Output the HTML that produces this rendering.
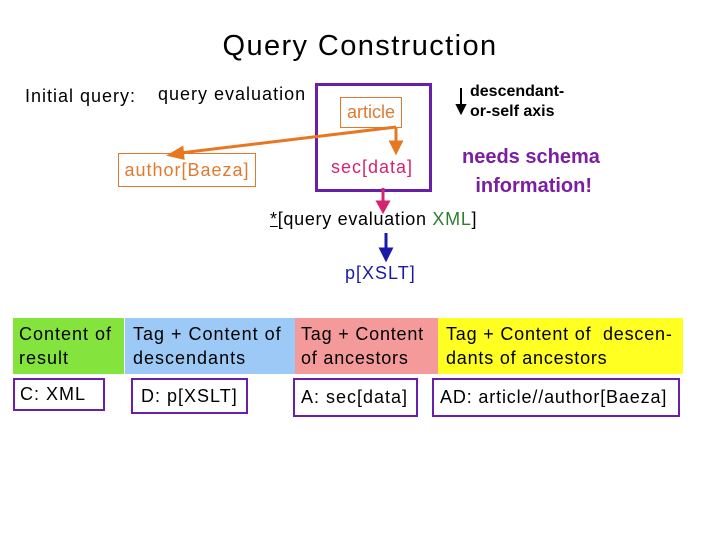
<!DOCTYPE html>
<html><head><style>
body{margin:0;width:720px;height:540px;background:#fff;position:relative;font-family:"Liberation Sans",sans-serif;overflow:hidden}
div{position:absolute}
.t{white-space:nowrap;letter-spacing:1px}
</style></head><body>
<div class="t" style="left:0;width:720px;top:30px;text-align:center;font-size:29px;letter-spacing:1.4px">Query Construction</div>
<div class="t" style="left:25px;top:86px;font-size:18px">Initial query:</div>
<div class="t" style="left:158px;top:84px;font-size:18px">query evaluation</div>
<div style="left:315px;top:83px;width:111px;height:103px;border:3px solid #6a1fa8"></div>
<div class="t" style="left:340px;top:97px;width:60px;height:29px;border:1px solid #e07a30;color:#e07a30;font-size:18px;text-align:center;line-height:29px;letter-spacing:0">article</div>
<div class="t" style="left:118px;top:153px;width:136px;height:32px;border:1px solid #e07a30;color:#e07a30;font-size:18px;text-align:center;line-height:32px">author[Baeza]</div>
<div class="t" style="left:331px;top:157px;font-size:18px;color:#d6246e">sec[data]</div>
<div class="t" style="left:470px;top:82px;font-size:16px;font-weight:bold;line-height:20px;letter-spacing:0">descendant-<br>or-self axis</div>
<div class="t" style="left:462px;top:143px;font-size:20px;font-weight:bold;color:#7b1fa2;line-height:29px;text-align:center;letter-spacing:0">needs schema<br>&nbsp;information!</div>
<div class="t" style="left:270px;top:209px;font-size:18px;letter-spacing:0.7px"><u>*</u>[query evaluation <span style="color:#2e7d32">XML</span>]</div>
<div class="t" style="left:345px;top:263px;font-size:18px;color:#1a1aa8">p[XSLT]</div>
<svg width="720" height="540" style="position:absolute;left:0;top:0">
<g stroke="#e87722" stroke-width="3" fill="#e87722">
<line x1="396" y1="127" x2="180" y2="153"/><polygon points="170,155 182,148 183,158"/>
<line x1="396" y1="127" x2="396" y2="143"/><polygon points="391,142 401,142 396,152"/>
</g>
<g stroke="#d6246e" stroke-width="3" fill="#d6246e"><line x1="383" y1="188" x2="383" y2="203"/><polygon points="378,202 388,202 383,211"/></g>
<g stroke="#1a1aa8" stroke-width="3" fill="#1a1aa8"><line x1="386" y1="233" x2="386" y2="250"/><polygon points="381,249 391,249 386,259"/></g>
<g stroke="#000" stroke-width="2" fill="#000"><line x1="461" y1="88" x2="461" y2="106"/><polygon points="457,105 465,105 461,113"/></g>
</svg>
<div style="left:13px;top:318px;width:111px;height:56px;background:#84e33c"></div>
<div style="left:125px;top:318px;width:170px;height:56px;background:#9cc9f5"></div>
<div style="left:295px;top:318px;width:143px;height:56px;background:#f59a9a"></div>
<div style="left:438px;top:318px;width:245px;height:56px;background:#ffff22"></div>
<div class="t" style="left:19px;top:322px;font-size:18px;line-height:24px">Content of<br>result</div>
<div class="t" style="left:133px;top:322px;font-size:18px;line-height:24px">Tag + Content of<br>descendants</div>
<div class="t" style="left:301px;top:322px;font-size:18px;line-height:24px;letter-spacing:0.8px">Tag + Content<br>of ancestors</div>
<div class="t" style="left:446px;top:322px;font-size:18px;line-height:24px;letter-spacing:0.8px">Tag + Content of &nbsp;descen-<br>dants of ancestors</div>
<div class="t" style="left:13px;top:378px;width:83px;height:29px;border:2px solid #6a1fa8;font-size:18px;padding-left:5px;line-height:29px">C: XML</div>
<div class="t" style="left:131px;top:378px;width:105px;height:32px;border:2px solid #6a1fa8;font-size:18px;padding-left:8px;line-height:32px">D: p[XSLT]</div>
<div class="t" style="left:293px;top:378px;width:115px;height:35px;border:2px solid #6a1fa8;font-size:18px;padding-left:6px;line-height:35px">A: sec[data]</div>
<div class="t" style="left:432px;top:378px;width:238px;height:35px;border:2px solid #6a1fa8;font-size:18px;padding-left:6px;line-height:35px;letter-spacing:0.85px">AD: article//author[Baeza]</div>
</body></html>
